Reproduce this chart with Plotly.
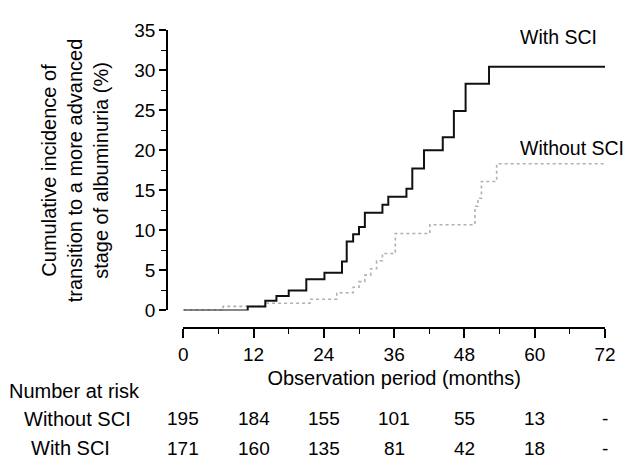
import plotly.graph_objects as go

# With SCI (black) step curve: month, cumulative incidence (%)
with_months = [0, 11.0, 14.0, 15.9, 18.0, 21.0, 24.1, 27.1, 27.9, 29.0, 30.0, 31.0,
               34.0, 35.0, 38.1, 39.1, 41.1, 44.3, 46.2, 48.2, 52.2, 72]
with_inc = [0, 0.5, 1.2, 1.8, 2.5, 3.9, 4.7, 6.1, 8.6, 9.5, 10.4, 12.2,
            13.2, 14.2, 15.2, 17.7, 20.0, 21.6, 24.9, 28.3, 30.4, 30.4]

# Without SCI (grey) step curve
without_months = [0, 6.8, 14.2, 21.6, 26.2, 29.0, 30.0, 31.0, 32.0, 33.0, 34.0,
                  36.2, 42.1, 49.8, 50.3, 50.9, 53.5, 72]
without_inc = [0, 0.5, 0.9, 1.4, 2.2, 2.9, 3.6, 4.4, 5.2, 6.2, 7.1,
               9.6, 10.7, 13.0, 14.0, 16.1, 18.3, 18.3]

x_ticks = [0, 12, 24, 36, 48, 60, 72]
y_ticks = [0, 5, 10, 15, 20, 25, 30, 35]

risk_without = ["195", "184", "155", "101", "55", "13", "-"]
risk_with = ["171", "160", "135", "81", "42", "18", "-"]

FONT = "Liberation Sans, Arial, sans-serif"

fig = go.Figure()
fig.add_trace(go.Scatter(x=without_months, y=without_inc, mode="lines",
                         line=dict(shape="hv", color="#b0b0b0", width=1.6, dash="dot"),
                         cliponaxis=False, showlegend=False))
fig.add_trace(go.Scatter(x=with_months, y=with_inc, mode="lines",
                         line=dict(shape="hv", color="#111111", width=2),
                         cliponaxis=False, showlegend=False))

annotations = [
    dict(x=57.1, y=34.1, xref="x", yref="y", text="With SCI", showarrow=False,
         xanchor="left", yanchor="middle", font=dict(size=19.5)),
    dict(x=57.1, y=20.3, xref="x", yref="y", text="Without SCI", showarrow=False,
         xanchor="left", yanchor="middle", font=dict(size=19.5)),
    dict(x=-0.21, y=0.5 + 0.059 / 2, xref="paper", yref="paper",
         text="Cumulative incidence of<br>transition to a more advanced<br>stage of albuminuria (%)",
         textangle=-90, showarrow=False, xanchor="center", yanchor="middle",
         font=dict(size=20)),
    dict(x=-0.365, y=-0.21, xref="paper", yref="paper", text="Number at risk",
         showarrow=False, xanchor="left", yanchor="middle", font=dict(size=20)),
    dict(x=-0.33, y=-0.305, xref="paper", yref="paper", text="Without SCI",
         showarrow=False, xanchor="left", yanchor="middle", font=dict(size=20)),
    dict(x=-0.315, y=-0.403, xref="paper", yref="paper", text="With SCI",
         showarrow=False, xanchor="left", yanchor="middle", font=dict(size=20)),
]
for m, a, b in zip(x_ticks, risk_without, risk_with):
    annotations.append(dict(x=m, y=-0.305, xref="x", yref="paper", text=a,
                            showarrow=False, xanchor="center", yanchor="middle",
                            font=dict(size=19)))
    annotations.append(dict(x=m, y=-0.403, xref="x", yref="paper", text=b,
                            showarrow=False, xanchor="center", yanchor="middle",
                            font=dict(size=19)))

# page body has an 8px default margin, so the figure is 8px smaller / shifted
fig.update_layout(
    width=625, height=457,
    margin=dict(l=159, r=28, t=15, b=137),
    paper_bgcolor="white", plot_bgcolor="white",
    font=dict(family=FONT, size=19, color="black"),
    showlegend=False,
    xaxis=dict(domain=[0.0372, 1], range=[0, 72], anchor="free", position=0,
               showgrid=False, zeroline=False, showline=True, linecolor="black",
               linewidth=1.5, ticks="outside", ticklen=9, tickwidth=1.5,
               tickcolor="black", tickvals=x_ticks,
               minor=dict(dtick=6, ticks="outside", ticklen=5, tickwidth=1.2,
                          tickcolor="black", showgrid=False),
               title=dict(text="Observation period (months)", standoff=6,
                          font=dict(size=20))),
    yaxis=dict(domain=[0.059, 1], range=[0, 35], anchor="free", position=0,
               showgrid=False, zeroline=False, showline=True, linecolor="black",
               linewidth=1.5, ticks="outside", ticklen=7, tickwidth=1.5,
               tickcolor="black", tickvals=y_ticks,
               minor=dict(dtick=2.5, ticks="outside", ticklen=5, tickwidth=1.2,
                          tickcolor="black", showgrid=False)),
    annotations=annotations,
)

fig.write_html("out.html")
